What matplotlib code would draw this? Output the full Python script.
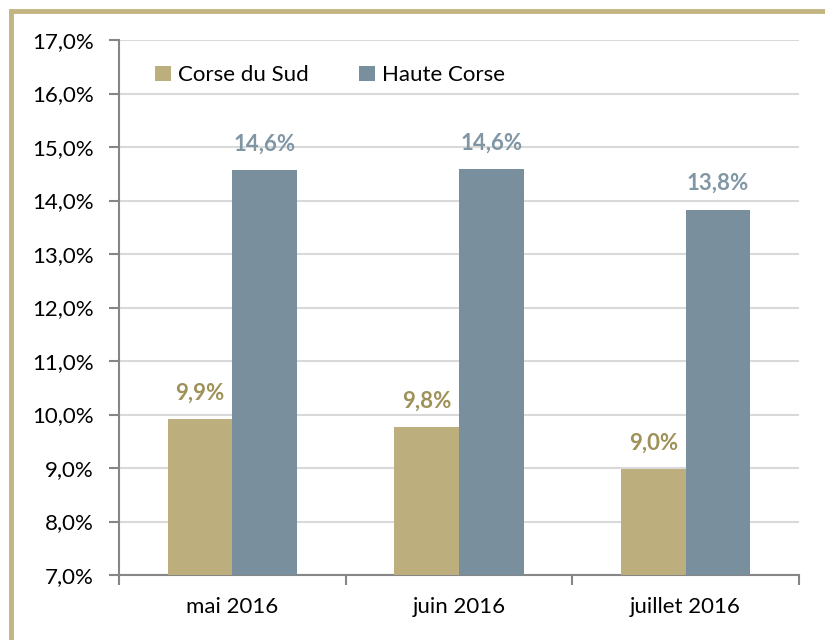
import numpy as np
import matplotlib.pyplot as plt
from matplotlib.patches import Rectangle

categories = ["mai 2016", "juin 2016", "juillet 2016"]
corse_sud = [9.91, 9.76, 8.98]
haute_corse = [14.57, 14.59, 13.83]
series_names = ["Corse du Sud", "Haute Corse"]

col_sud = "#BCAF7D"
col_haute = "#798F9D"
lab_sud = "#9E9258"
lab_haute = "#8196A5"

plt.rcParams['font.family'] = ['Lato', 'DejaVu Sans']

fig = plt.figure(figsize=(8.25, 6.4), dpi=100)
ax = fig.add_axes([119 / 825, 1 - 575 / 640, 680 / 825, 535 / 640])

# cadre beige autour du graphique
fig.patches.append(Rectangle((11 / 825, -0.1), 1.2, 1 - 11 / 640 + 0.1,
                             transform=fig.transFigure, fill=False,
                             edgecolor="#C2B582", linewidth=3.5))

x = np.arange(len(categories))
w = 0.286
b1 = ax.bar(x - w / 2, corse_sud, w, color=col_sud, label=series_names[0], zorder=3)
b2 = ax.bar(x + w / 2, haute_corse, w, color=col_haute, label=series_names[1], zorder=3)

for rect, v in zip(b1, corse_sud):
    ax.text(rect.get_x() + rect.get_width() / 2, v + 0.29, f"{v:.1f}%".replace(".", ","),
            ha="center", va="bottom", fontsize=16, fontweight="bold", color=lab_sud)
for rect, v in zip(b2, haute_corse):
    ax.text(rect.get_x() + rect.get_width() / 2, v + 0.29, f"{v:.1f}%".replace(".", ","),
            ha="center", va="bottom", fontsize=16, fontweight="bold", color=lab_haute)

ax.set_ylim(7, 17)
ax.set_xlim(-0.5, 2.5)
yt = np.arange(7, 18, 1)
ax.set_yticks(yt)
ax.set_yticklabels([f"{v:.1f}%".replace(".", ",") for v in yt], fontsize=16)
ax.yaxis.grid(True, color="#D9D9D9", linewidth=1.5, zorder=0)
ax.set_axisbelow(True)

ax.set_xticks(x)
ax.set_xticklabels(categories, fontsize=16)
ax.tick_params(axis="x", length=0, pad=16)
ax.set_xticks([-0.5, 0.5, 1.5, 2.5], minor=True)
ax.tick_params(axis="x", which="minor", length=7, color="#868686", width=1.5)
ax.tick_params(axis="y", length=7, color="#868686", width=1.5, pad=11)

for s in ["top", "right"]:
    ax.spines[s].set_visible(False)
for s in ["left", "bottom"]:
    ax.spines[s].set_color("#868686")
    ax.spines[s].set_linewidth(1.5)

ax.legend(loc="upper left", bbox_to_anchor=(0.024, 0.99), ncol=2, frameon=False,
          fontsize=16, handlelength=0.7, handleheight=0.7, handletextpad=0.3,
          columnspacing=2.3)

fig.savefig("out.png", dpi=100)
